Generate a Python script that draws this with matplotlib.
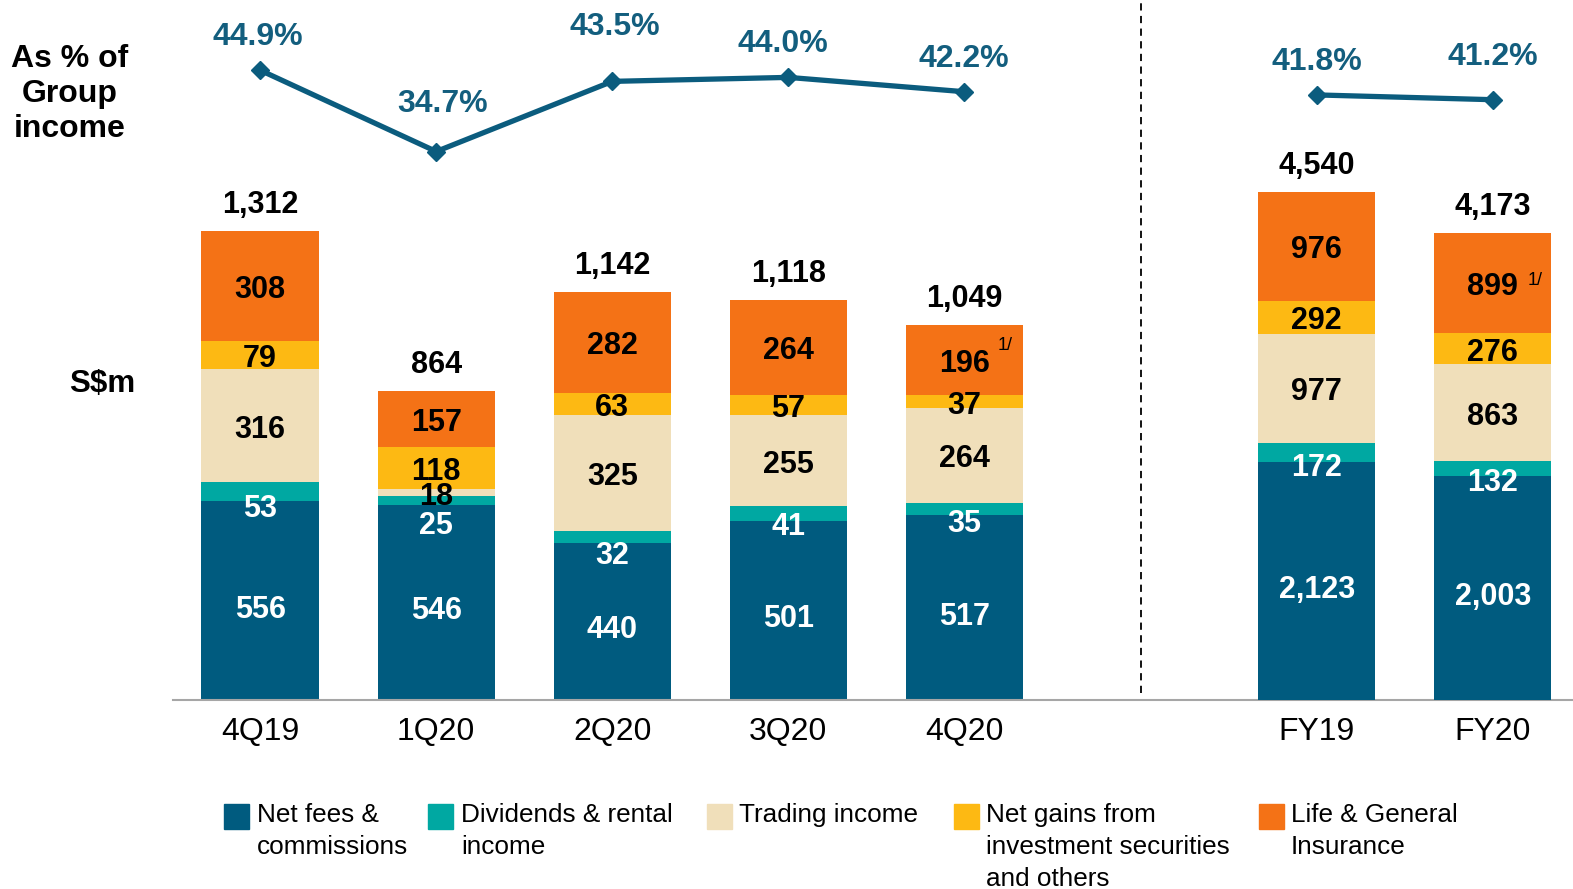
import numpy as np
import matplotlib.pyplot as plt
from matplotlib.patches import Rectangle

plt.rcParams['font.family'] = ['Liberation Sans', 'DejaVu Sans']

# data (S$m)
periods_q = ["4Q19", "1Q20", "2Q20", "3Q20", "4Q20"]
periods_fy = ["FY19", "FY20"]
series = ["Net fees &\ncommissions", "Dividends & rental\nincome", "Trading income",
          "Net gains from\ninvestment securities\nand others", "Life & General\nInsurance"]
colors = ["#005B7F", "#00A8A2", "#F0DFBA", "#FDB913", "#F47216"]

net_fees_q = [556, 546, 440, 501, 517]
dividends_q = [53, 25, 32, 41, 35]
trading_q = [316, 18, 325, 255, 264]
net_gains_q = [79, 118, 63, 57, 37]
insurance_q = [308, 157, 282, 264, 196]
totals_q = [1312, 864, 1142, 1118, 1049]
pct_q = [44.9, 34.7, 43.5, 44.0, 42.2]

net_fees_fy = [2123, 2003]
dividends_fy = [172, 132]
trading_fy = [977, 863]
net_gains_fy = [292, 276]
insurance_fy = [976, 899]
totals_fy = [4540, 4173]
pct_fy = [41.8, 41.2]

x_q = [0, 1, 2, 3, 4]
x_fy = [6, 7]

W, H = 1573, 889
PT = 0.72   # points per pixel at dpi 100
VS = -4     # visual centring of digits (px)
fig = plt.figure(figsize=(W / 100, H / 100), dpi=100)
ax = fig.add_axes([173 / W, 1 - 700 / H, (1573 - 173) / W, 700 / H])
ax.set_xlim(-0.495, 7.456)
ax.set_ylim(0, 1958)
ax_fy = ax.twinx()
ax_fy.set_ylim(0, 6251)
ax_pct = ax.twinx()
ax_pct.set_ylim(-34.12, 53.71)

for a in (ax, ax_fy, ax_pct):
    for s in a.spines.values():
        s.set_visible(False)
    a.set_yticks([])
ax.spines['bottom'].set_visible(True)
ax.spines['bottom'].set_color("#A6A6A6")
ax.spines['bottom'].set_linewidth(1.5)

ax.set_xticks(x_q + x_fy, periods_q + periods_fy)
ax.tick_params(axis='x', length=0, pad=12, labelsize=23)

BW = 0.667


def draw_stack(a, xs, stacks, totals, teal_nudge, footnote):
    bottom = np.zeros(len(xs))
    for i, vals in enumerate(stacks):
        vals = np.array(vals)
        a.bar(xs, vals, BW, bottom=bottom, color=colors[i], edgecolor='none', zorder=2)
        for j, (x, v) in enumerate(zip(xs, vals)):
            if i == 1:
                y, dy = bottom[j], -teal_nudge[j]
            elif i == 0:
                y, dy = bottom[j] + v / 2, -5
            else:
                y, dy = bottom[j] + v / 2, 0
            a.annotate(f"{v:,}", (x, y), xytext=(0, (dy + VS) * PT), textcoords='offset points',
                       ha='center', va='center', fontsize=22, fontweight='bold',
                       color='white' if i < 2 else 'black', zorder=4)
            if i == 4 and footnote[j] is not None:
                a.annotate("1/", (x, y), xytext=(footnote[j][0] * PT, footnote[j][1] * PT),
                           textcoords='offset points', ha='center', va='center',
                           fontsize=13, zorder=4)
        bottom += vals
    for x, t in zip(xs, totals):
        a.annotate(f"{t:,}", (x, t), xytext=(0, (30 + VS) * PT), textcoords='offset points',
                   ha='center', va='center', fontsize=22, fontweight='bold')


draw_stack(ax, x_q, [net_fees_q, dividends_q, trading_q, net_gains_q, insurance_q],
           totals_q, [4, 17, 9, 2, 5], [None, None, None, None, (41, 15)])
draw_stack(ax_fy, x_fy, [net_fees_fy, dividends_fy, trading_fy, net_gains_fy, insurance_fy],
           totals_fy, [2, 3], [None, (42, 3)])

line_c = "#0B5C7E"
ax_pct.plot(x_q, pct_q, color=line_c, lw=3.8, marker='D', ms=9, zorder=5)
ax_pct.plot(x_fy, pct_fy, color=line_c, lw=3.8, marker='D', ms=9, zorder=5)
pct_off = [(-2, 37), (6, 52), (2, 58), (-6, 37), (-1, 37), (0, 37), (0, 47)]
for (x, p), (dx, dy) in zip(zip(x_q + x_fy, pct_q + pct_fy), pct_off):
    ax_pct.annotate(f"{p:.1f}%", (x, p), xytext=(dx * PT, (dy + VS) * PT),
                    textcoords='offset points', ha='center', va='center',
                    fontsize=23, fontweight='bold', color="#135E7E")

ax.axvline(5, ymin=0.01, ymax=1, color='black', lw=1.3, ls=(0, (4, 3)), zorder=1)

fig.text(70 / W, 1 - 94 / H, "As % of\nGroup\nincome", ha='center', va='center',
         fontsize=23, fontweight='bold', linespacing=1.2)
fig.text(102 / W, 1 - 384 / H, "S$m", ha='center', va='center', fontsize=22.5, fontweight='bold')

# legend
sq_x = [224, 428, 707, 954, 1259]
tx_x = [257, 461, 739, 986, 1291]
for i, name in enumerate(series):
    fig.patches.append(Rectangle((sq_x[i] / W, 1 - 829 / H), 25 / W, 25 / H,
                                 transform=fig.transFigure, color=colors[i]))
    fig.text(tx_x[i] / W, 1 - 803 / H, name, ha='left', va='top', fontsize=18.8,
             linespacing=1.43)

fig.savefig("out.png", dpi=100)
